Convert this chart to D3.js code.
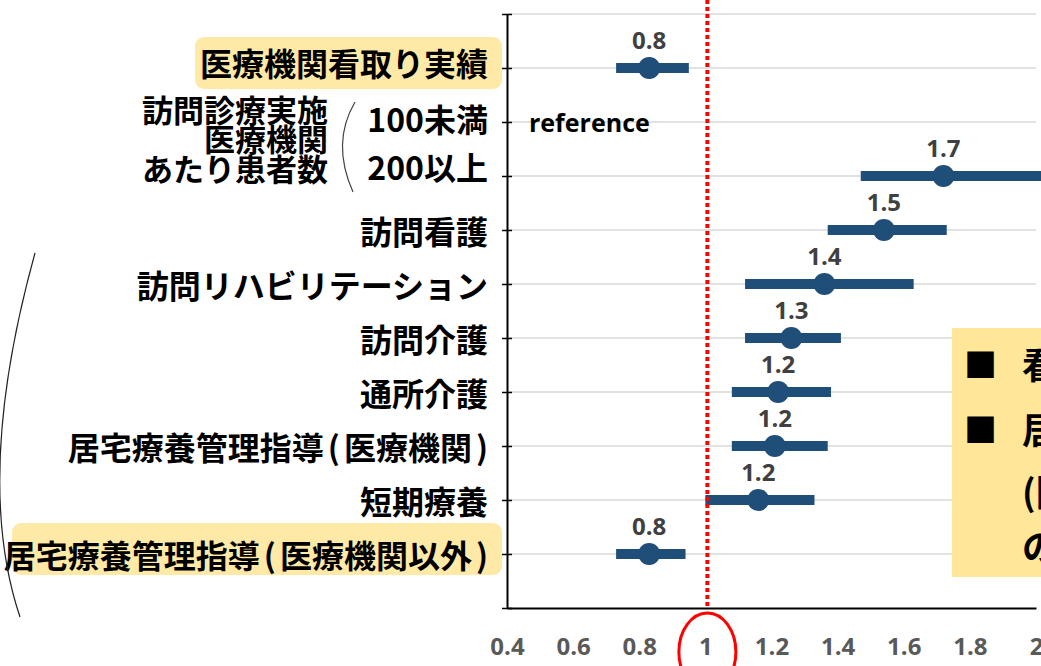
<!DOCTYPE html>
<html>
<head>
<meta charset="utf-8">
<script src="https://cdn.jsdelivr.net/npm/d3@7"></script>
<style>
  html, body { margin: 0; padding: 0; background: #ffffff; }
  svg { display: block; }
</style>
</head>
<body>
<svg id="chart" width="1041" height="666"></svg>
<script>
// ---- data ---------------------------------------------------------------
const rowLabels = [
  "医療機関看取り実績",
  "100未満",
  "200以上",
  "訪問看護",
  "訪問リハビリテーション",
  "訪問介護",
  "通所介護",
  "居宅療養管理指導(医療機関)",
  "短期療養",
  "居宅療養管理指導(医療機関以外)"
];
// odds ratio with 95% confidence interval (null = reference category)
const oddsRatio = [0.83, null, 1.72, 1.54, 1.36, 1.26, 1.22, 1.21, 1.16, 0.83];
const ciLower   = [0.73, null, 1.47, 1.37, 1.12, 1.12, 1.08, 1.08, 1.00, 0.73];
const ciUpper   = [0.95, null, 2.05, 1.73, 1.63, 1.41, 1.38, 1.37, 1.33, 0.94];
const xTicks = [0.4, 0.6, 0.8, 1, 1.2, 1.4, 1.6, 1.8, 2];
const referenceText = "reference";
const groupTitle = ["訪問診療実施", "医療機関", "あたり患者数"];
const highlightedRows = [0, 9];
const noteBullets = ["看取り実績のある医療機関", "居宅療養管理指導"];
const noteContinuation = ["(医療機関以外)", "の利用が多い"];

// ---- layout -------------------------------------------------------------
const W = 1041, H = 666;
const plot = { left: 507, right: 1036, top: 14, bottom: 608 };
const JP = "'Noto Sans CJK JP', 'Noto Sans', sans-serif";
const NUM = "'Open Sans', 'Noto Sans', sans-serif";
const BLUE = "#1F4E79";

const svg = d3.select("#chart");

const x = d3.scaleLinear().domain([0.4, 2]).range([plot.left, plot.right]);
const y = d3.scaleLinear().domain([0, 11]).range([plot.top, plot.bottom]);
const rowY = i => y(i + 1);

const rows = rowLabels.map((label, i) => ({
  label, i, or: oddsRatio[i], lo: ciLower[i], hi: ciUpper[i]
}));

// horizontal gridlines
svg.append("g")
  .selectAll("line")
  .data(d3.range(0, 11))
  .join("line")
  .attr("x1", plot.left).attr("x2", plot.right)
  .attr("y1", d => y(d)).attr("y2", d => y(d))
  .attr("stroke", "#D9D9D9").attr("stroke-width", 1.5);

// note box on the right
const noteG = svg.append("g");
noteG.append("rect")
  .attr("x", 952).attr("y", 328).attr("width", 120).attr("height", 249)
  .attr("fill", "#FFE699");
const noteY = [363, 428];
noteBullets.forEach((t, k) => {
  noteG.append("text")
    .attr("x", 964).attr("y", noteY[k]).attr("dominant-baseline", "central")
    .attr("font-family", JP).attr("font-weight", 700).attr("font-size", 33)
    .attr("fill", "#000").text("■");
  noteG.append("text")
    .attr("x", 1022).attr("y", noteY[k]).attr("dominant-baseline", "central")
    .attr("font-family", JP).attr("font-weight", 700).attr("font-size", 36)
    .attr("fill", "#000").text(t);
});
const contY = [490, 545];
noteContinuation.forEach((t, k) => {
  noteG.append("text")
    .attr("x", 1022).attr("y", contY[k]).attr("dominant-baseline", "central")
    .attr("font-family", JP).attr("font-weight", 700).attr("font-size", 36)
    .attr("fill", "#000").text(t);
});

// axes
const yAxis = d3.axisLeft(y).tickValues(d3.range(0, 12)).tickSize(5).tickSizeOuter(0).tickFormat("");
const gy = svg.append("g").attr("transform", `translate(${plot.left},0)`).call(yAxis);
gy.select(".domain").attr("stroke", "#000").attr("stroke-width", 2);
gy.selectAll(".tick line").attr("x1", 5).attr("stroke", "#000").attr("stroke-width", 1.5);

const xAxis = d3.axisBottom(x).tickValues(xTicks).tickSize(0).tickSizeOuter(0)
  .tickPadding(30).tickFormat(d3.format("~g"));
const gx = svg.append("g").attr("transform", `translate(0,${plot.bottom})`).call(xAxis);
gx.select(".domain").attr("stroke", "#000").attr("stroke-width", 2);
gx.selectAll(".tick text")
  .attr("font-family", NUM).attr("font-weight", 700).attr("font-size", 24)
  .attr("fill", "#595959");

// confidence intervals and point estimates
const est = rows.filter(d => d.or != null);
const dataG = svg.append("g");
dataG.selectAll("line.ci")
  .data(est)
  .join("line")
  .attr("class", "ci")
  .attr("x1", d => x(d.lo)).attr("x2", d => x(d.hi))
  .attr("y1", d => rowY(d.i)).attr("y2", d => rowY(d.i))
  .attr("stroke", BLUE).attr("stroke-width", 10);
dataG.selectAll("circle")
  .data(est)
  .join("circle")
  .attr("cx", d => x(d.or)).attr("cy", d => rowY(d.i)).attr("r", 11)
  .attr("fill", BLUE);
dataG.selectAll("text.val")
  .data(est)
  .join("text")
  .attr("class", "val")
  .attr("x", d => x(d.or)).attr("y", d => rowY(d.i) - 19)
  .attr("text-anchor", "middle")
  .attr("font-family", NUM).attr("font-weight", 700).attr("font-size", 24)
  .attr("fill", "#404040")
  .text(d => d3.format(".1f")(d.or));

// reference category marker
svg.append("text")
  .attr("x", 529).attr("y", rowY(1)).attr("dominant-baseline", "central")
  .attr("font-family", NUM).attr("font-weight", 700).attr("font-size", 25)
  .attr("fill", "#000").text(referenceText);

// null line at OR = 1
svg.append("line")
  .attr("x1", x(1) + 2).attr("x2", x(1) + 2).attr("y1", 0).attr("y2", plot.bottom)
  .attr("stroke", "#FF0000").attr("stroke-width", 4).attr("stroke-dasharray", "4,3");
svg.append("ellipse")
  .attr("cx", x(1) + 2).attr("cy", 652).attr("rx", 28.5).attr("ry", 39)
  .attr("fill", "none").attr("stroke", "#FF0000").attr("stroke-width", 3);

// row labels (parentheses get a little extra room on each side)
const labelShift = [-6, -4, -10, 0, 0, 0, 0, 0, 0, 0];
const labelG = svg.append("g");
const labels = labelG.selectAll("text")
  .data(rows)
  .join("text")
  .attr("x", 488)
  .attr("y", d => rowY(d.i) + labelShift[d.i])
  .attr("text-anchor", "end").attr("dominant-baseline", "central")
  .attr("font-family", JP).attr("font-weight", 700).attr("font-size", 32)
  .attr("fill", "#000");
labels.each(function(d) {
  const t = d3.select(this);
  const parts = d.label.split(/([()])/).filter(s => s.length);
  let prevParen = false;
  parts.forEach(p => {
    const isParen = p === "(" || p === ")";
    t.append("tspan")
      .attr("dx", isParen || prevParen ? 4 : null)
      .text(p);
    prevParen = isParen;
  });
});

// highlight boxes behind selected labels
labels.filter(d => highlightedRows.includes(d.i)).each(function(d) {
  const b = this.getBBox();
  const x0 = Math.max(b.x - 5, 12);
  labelG.insert("rect", "text")
    .attr("x", x0).attr("y", rowY(d.i) - 31)
    .attr("width", 502 - x0).attr("height", 52)
    .attr("rx", 9)
    .attr("fill", "#FFE9A6");
});

// grouping title for patient count rows
const gt = svg.append("g");
groupTitle.forEach((t, k) => {
  gt.append("text")
    .attr("x", 328).attr("y", 108 + k * 29.5)
    .attr("text-anchor", "end").attr("dominant-baseline", "central")
    .attr("font-family", JP).attr("font-weight", 700).attr("font-size", 31)
    .attr("fill", "#000").text(t);
});

// brackets
svg.append("path")
  .attr("d", "M355,102 Q331,143 353,192")
  .attr("fill", "none").attr("stroke", "#444").attr("stroke-width", 1.2);
svg.append("path")
  .attr("d", "M35,253 Q-27,477 20,617")
  .attr("fill", "none").attr("stroke", "#222").attr("stroke-width", 1.2);
</script>
</body>
</html>
